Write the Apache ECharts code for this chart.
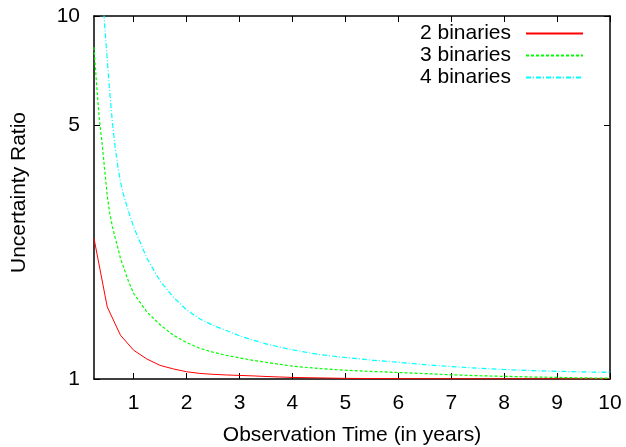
<!DOCTYPE html>
<html><head><meta charset="utf-8">
<script src="https://cdn.jsdelivr.net/npm/echarts@6/dist/echarts.min.js"></script>
<style>html,body{margin:0;padding:0;background:#fff}#c{width:626px;height:447px}</style>
</head><body><div id="c"></div>
<script>
const xTickValues = [1, 2, 3, 4, 5, 6, 7, 8, 9, 10];
const yTickValues = [1, 5, 10];
const seriesNames = ['2 binaries', '3 binaries', '4 binaries'];

const xRed = [0.25, 0.5, 0.75, 1, 1.25, 1.5, 1.75, 2, 2.25, 2.5, 2.75, 3, 3.25, 3.5, 3.75, 4, 4.5, 5, 5.5, 6, 7, 8, 9, 10];
const yRed = [2.44, 1.58, 1.32, 1.20, 1.135, 1.09, 1.066, 1.047, 1.036, 1.030, 1.026, 1.023, 1.020, 1.016, 1.013, 1.010, 1.007, 1.004, 1.003, 1.002, 1.0015, 1.001, 1.001, 1.001];

const xGreen = [0.25, 0.3, 0.35, 0.4, 0.45, 0.5, 0.55, 0.6, 0.65, 0.7, 0.75, 0.8, 0.9, 1, 1.25, 1.5, 1.75, 2, 2.25, 2.5, 2.75, 3, 3.25, 3.5, 3.75, 4, 4.5, 5, 5.5, 6, 6.5, 7, 7.5, 8, 8.5, 9, 9.5, 10];
const yGreen = [8.2, 6.45, 5.2, 4.5, 3.8, 3.2, 2.85, 2.62, 2.45, 2.3, 2.15, 2.05, 1.86, 1.72, 1.53, 1.41, 1.32, 1.26, 1.215, 1.185, 1.162, 1.143, 1.126, 1.112, 1.098, 1.085, 1.069, 1.057, 1.049, 1.042, 1.035, 1.027, 1.021, 1.017, 1.013, 1.010, 1.007, 1.005];

const xCyan = [0.25, 0.3, 0.35, 0.4, 0.45, 0.5, 0.55, 0.6, 0.65, 0.7, 0.75, 0.8, 0.9, 1, 1.25, 1.5, 1.75, 2, 2.25, 2.5, 2.75, 3, 3.25, 3.5, 3.75, 4, 4.5, 5, 5.5, 6, 6.5, 7, 7.5, 8, 8.5, 9, 9.5, 10];
const yCyan = [28, 21, 15.7, 12.1, 9.5, 7.6, 6.1, 5.05, 4.35, 3.85, 3.5, 3.25, 2.9, 2.62, 2.15, 1.86, 1.68, 1.55, 1.465, 1.405, 1.36, 1.315, 1.28, 1.25, 1.225, 1.203, 1.168, 1.146, 1.127, 1.112, 1.095, 1.082, 1.071, 1.062, 1.055, 1.050, 1.046, 1.043];

const pairs = (xs, ys) => xs.map((x, i) => [x, ys[i]]);
const FONT = 'Liberation Sans';

const chart = echarts.init(document.getElementById('c'), null, {renderer: 'canvas'});
const axisLineStyle = {color: '#000', width: 1.5};
const tickStyle = {color: '#000', width: 1};

const baseX = {
  type: 'value', min: 0.25, max: 10,
  splitLine: {show: false},
  axisLine: {show: true, onZero: false, lineStyle: axisLineStyle},
  axisTick: {show: true, inside: true, length: 6, customValues: xTickValues, lineStyle: tickStyle}
};
const baseY = {
  type: 'log', logBase: 10, min: 1, max: 10,
  splitLine: {show: false},
  axisLine: {show: true, onZero: false, lineStyle: axisLineStyle},
  axisTick: {show: true, inside: true, length: 6, customValues: yTickValues, lineStyle: tickStyle}
};

const option = {
  animation: false,
  backgroundColor: '#fff',
  textStyle: {fontFamily: FONT},
  grid: {left: 94, right: 16, top: 16, bottom: 68, containLabel: false, outerBoundsMode: 'none'},
  legend: {
    data: seriesNames,
    orient: 'vertical',
    align: 'right',
    right: 37,
    top: 17.5,
    itemWidth: 57,
    itemHeight: 14,
    itemGap: 0,
    itemStyle: {opacity: 0},
    textStyle: {fontFamily: FONT, fontSize: 21, color: '#000', lineHeight: 22, padding: [0, 10, 0, 0]}
  },
  xAxis: [
    Object.assign({}, baseX, {
      position: 'bottom',
      name: 'Observation Time (in years)',
      nameLocation: 'middle',
      nameGap: 46,
      nameTextStyle: {fontFamily: FONT, fontSize: 21, color: '#000'},
      axisLabel: {show: true, customValues: xTickValues, margin: 14, fontFamily: FONT, fontSize: 21, color: '#000'}
    }),
    Object.assign({}, baseX, {position: 'top', axisLabel: {show: false}})
  ],
  yAxis: [
    Object.assign({}, baseY, {
      position: 'left',
      name: 'Uncertainty Ratio',
      nameLocation: 'middle',
      nameGap: 64,
      nameTextStyle: {fontFamily: FONT, fontSize: 21, color: '#000', padding: [0, 0, 0, 10]},
      axisLabel: {show: true, customValues: yTickValues, margin: 14, fontFamily: FONT, fontSize: 21, color: '#000'}
    }),
    Object.assign({}, baseY, {position: 'right', axisLabel: {show: false}})
  ],
  series: [
    {name: seriesNames[0], type: 'line', data: pairs(xRed, yRed), symbol: 'none', showSymbol: false,
     lineStyle: {color: '#ff0000', width: 1, type: 'solid'}, itemStyle: {color: '#ff0000'}, clip: true},
    {name: seriesNames[1], type: 'line', data: pairs(xGreen, yGreen), symbol: 'none', showSymbol: false,
     lineStyle: {color: '#00ff00', width: 1.2, type: [3, 2]}, itemStyle: {color: '#00ff00'}, clip: true},
    {name: seriesNames[2], type: 'line', data: pairs(xCyan, yCyan), symbol: 'none', showSymbol: false,
     lineStyle: {color: '#00ffff', width: 1.2, type: [5, 2, 1, 2]}, itemStyle: {color: '#00ffff'}, clip: true}
  ]
};
chart.setOption(option);
</script>
</body></html>
